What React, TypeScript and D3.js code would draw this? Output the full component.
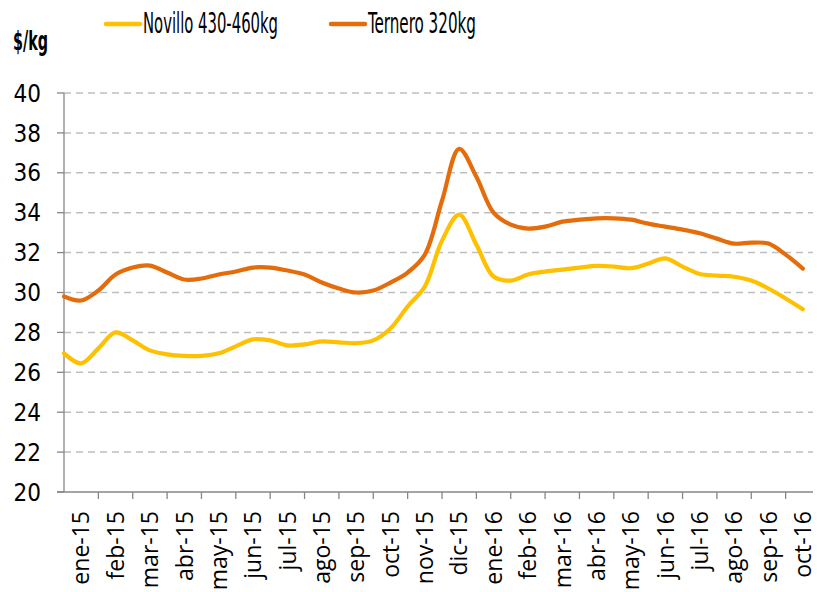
import React from 'react';
import * as d3 from 'd3';

// month labels on the category axis
const months = [
  'ene-15', 'feb-15', 'mar-15', 'abr-15', 'may-15', 'jun-15', 'jul-15', 'ago-15',
  'sep-15', 'oct-15', 'nov-15', 'dic-15', 'ene-16', 'feb-16', 'mar-16', 'abr-16',
  'may-16', 'jun-16', 'jul-16', 'ago-16', 'sep-16', 'oct-16',
];

// half-monthly prices, $/kg
const novillo = [
  26.95, 26.45, 27.2, 28.0, 27.6, 27.1, 26.9, 26.82, 26.82, 26.95, 27.3, 27.65,
  27.6, 27.35, 27.4, 27.55, 27.5, 27.46, 27.6, 28.2, 29.3, 30.3, 32.6, 33.9,
  32.4, 30.8, 30.6, 30.9, 31.05, 31.15, 31.25, 31.33, 31.3, 31.22, 31.45, 31.71,
  31.3, 30.93, 30.85, 30.79, 30.6, 30.2, 29.7, 29.16,
];
const ternero = [
  29.8, 29.6, 30.1, 30.9, 31.25, 31.35, 31.0, 30.65, 30.7, 30.9, 31.05, 31.25,
  31.25, 31.1, 30.9, 30.5, 30.2, 30.0, 30.1, 30.5, 31.0, 31.9, 34.6, 37.2,
  35.8, 34.0, 33.4, 33.2, 33.3, 33.55, 33.65, 33.72, 33.72, 33.65, 33.45, 33.3,
  33.15, 32.97, 32.7, 32.45, 32.5, 32.45, 31.9, 31.2,
];

const yTicks = [20, 22, 24, 26, 28, 30, 32, 34, 36, 38, 40];

const series = [
  { name: 'Novillo 430-460kg', values: novillo, color: '#FFC000' },
  { name: 'Ternero 320kg', values: ternero, color: '#E46C0A' },
];

const App = () => {
  const width = 817;
  const height = 592;
  const left = 64;
  const top = 93;
  const bottom = 492;

  const x = d3.scaleLinear().domain([0, months.length]).range([left, 820]);
  const y = d3.scaleLinear().domain([20, 40]).range([bottom, top]);

  const line = d3.line<number>()
    .x((_, i) => x(i / 2))
    .y(d => y(d))
    .curve(d3.curveCatmullRom.alpha(0.5));

  const axisColor = '#868686';

  // legend geometry: line start, text width
  const legend = [
    { lx: 106, tw: 135 },
    { lx: 331, tw: 108 },
  ];

  return (
    <svg width={width} height={height} style={{ position: 'absolute', left: 0, top: 0 }}>
      {/* gridlines */}
      {yTicks.slice(1).map(t => (
        <line key={t} x1={left} x2={813} y1={y(t)} y2={y(t)}
          stroke="#BFBFBF" strokeWidth={1.5} strokeDasharray="7,5" />
      ))}

      {/* y axis */}
      <line x1={left} x2={left} y1={top} y2={bottom} stroke={axisColor} strokeWidth={1.3} />
      {yTicks.map(t => (
        <g key={t}>
          <line x1={left - 7} x2={left} y1={y(t)} y2={y(t)} stroke={axisColor} strokeWidth={1.3} />
          <text x={41} y={y(t)} dy="0.36em" textAnchor="end"
            fontFamily="DejaVu Sans Condensed, DejaVu Sans, sans-serif" fontSize={24} fill="#000">{t}</text>
        </g>
      ))}

      {/* x axis */}
      <line x1={left - 7} x2={813} y1={bottom} y2={bottom} stroke={axisColor} strokeWidth={1.3} />
      {d3.range(1, months.length).map(i => (
        <line key={i} x1={x(i)} x2={x(i)} y1={bottom} y2={bottom + 7} stroke={axisColor} strokeWidth={1.3} />
      ))}
      {months.map((m, i) => (
        <text key={m} transform={`translate(${x(i + 0.5)},${511}) rotate(-90)`}
          dy="0.36em" textAnchor="end"
          fontFamily="Open Sans, sans-serif" fontSize={23} fill="#000">{m}</text>
      ))}

      {/* lines */}
      {series.map(s => (
        <path key={s.name} d={line(s.values) || ''} fill="none" stroke={s.color}
          strokeWidth={4.2} strokeLinecap="round" strokeLinejoin="round" />
      ))}

      {/* unit label */}
      <text x={13} y={50} fontFamily="DejaVu Sans Condensed, DejaVu Sans, sans-serif"
        fontWeight="bold" fontSize={27} textLength={35} lengthAdjust="spacingAndGlyphs"
        fill="#000">$/kg</text>

      {/* legend */}
      {series.map((s, i) => {
        const { lx, tw } = legend[i];
        return (
          <g key={s.name}>
            <line x1={lx} x2={lx + 34} y1={24} y2={24} stroke={s.color} strokeWidth={4.5} strokeLinecap="round" />
            <text x={lx + 37} y={33}
              fontFamily="DejaVu Sans Condensed, sans-serif"
              fontSize={29} textLength={tw} lengthAdjust="spacingAndGlyphs"
              fill="#000">{s.name}</text>
          </g>
        );
      })}
    </svg>
  );
};

export default App;
